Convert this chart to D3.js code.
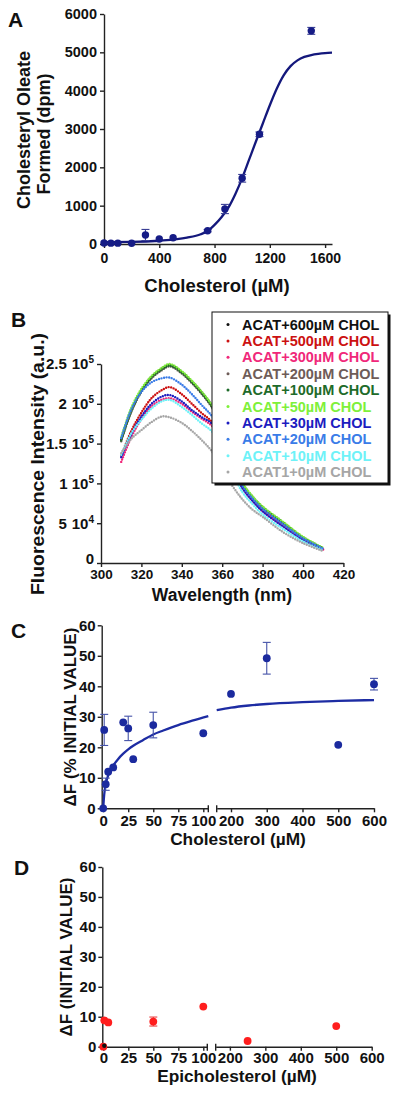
<!DOCTYPE html>
<html><head><meta charset="utf-8">
<script src="https://cdn.jsdelivr.net/npm/d3@7"></script>
<style>
body{margin:0;background:#fff}
svg{display:block}
text{font-family:"Liberation Sans",Arial,Helvetica,sans-serif;font-weight:bold}
</style>
</head><body>
<svg id="c" width="400" height="1096"></svg>
<script>
// ---------- Panel A data ----------
const aCholesterol = [0, 50, 100, 200, 300, 400, 500, 750, 875, 1000, 1125, 1500];
const aOleate      = [25, 22, 22, 18, 235, 130, 165, 347, 913, 1714, 2862, 5560];
const aError       = [0, 0, 0, 0, 145, 0, 0, 30, 120, 100, 60, 90];
const aFitX = [0, 200, 400, 600, 700, 750, 800, 850, 900, 950, 1000, 1050, 1100, 1150, 1200, 1250, 1300, 1350, 1400, 1450, 1500, 1550, 1600, 1650];
const aFitY = [50, 55, 85, 165, 255, 340, 500, 700, 950, 1300, 1720, 2200, 2680, 3150, 3620, 4050, 4400, 4640, 4790, 4880, 4930, 4960, 4980, 4990];
const aXTicks = [0, 400, 800, 1200, 1600];
const aYTicks = [0, 1000, 2000, 3000, 4000, 5000, 6000];

// ---------- Panel B data (intensity in thousands) ----------
const bWavelength = [310, 315, 320, 325, 330, 334, 340, 345, 350, 355, 360, 365, 370, 375, 380, 390, 400, 410];
const bLabels = ["ACAT+600µM CHOL", "ACAT+500µM CHOL", "ACAT+300µM CHOL", "ACAT+200µM CHOL", "ACAT+100µM CHOL",
                 "ACAT+50µM CHOL", "ACAT+30µM CHOL", "ACAT+20µM CHOL", "ACAT+10µM CHOL", "ACAT1+0µM CHOL"];
const bColors = ["#111111", "#cc1111", "#f0287a", "#6e5c58", "#1e6b2a", "#7ef03a", "#1c1cc0", "#3a7ce8", "#6ef2f8", "#a6a6a6"];
const bChol600 = [155, 192, 217, 234, 244, 249, 240, 228, 214, 197, 170, 134, 100, 83, 70, 51, 32, 18.5];
const bChol500 = [135, 166, 189, 207, 217, 221, 212, 200, 188, 177, 152, 123, 95, 79, 66, 48, 30, 17.5];
const bChol300 = [127, 158, 181, 197, 205, 207, 200, 190, 181, 172, 148, 121, 94, 78, 65, 47, 30, 17];
const bChol200 = [153, 190, 215, 232, 242, 247, 238, 226, 212, 195, 168, 133, 99, 82, 69, 50, 31, 18];
const bChol100 = [154, 191, 216, 233, 243, 248, 239, 227, 213, 196, 169, 133, 99, 83, 70, 51, 32, 18];
const bChol50  = [158, 195, 219, 235, 245, 250, 241, 229, 215, 198, 171, 135, 101, 84, 71, 52, 33, 19];
const bChol30  = [133, 162, 184, 200, 209, 211, 203, 192, 183, 175, 150, 121, 94, 78, 65, 46, 29, 17];
const bChol20  = [157, 193, 215, 227, 232, 233, 224, 212, 198, 184, 158, 127, 97, 81, 68, 49, 31, 18];
const bChol10  = [136, 163, 180, 194, 203, 205, 196, 186, 175, 165, 141, 114, 89, 74, 61, 43, 27, 16];
const bChol0   = [138, 156, 167, 177, 184, 183, 176, 166, 154, 140, 118, 97, 80, 67, 58, 39, 25, 15];
const bSeries = [bChol600, bChol500, bChol300, bChol200, bChol100, bChol50, bChol30, bChol20, bChol10, bChol0];
const bXTicks = [300, 320, 340, 360, 380, 400, 420];
const bYTicks = [0, 50, 100, 150, 200, 250];
const bYMant  = ["0", "5", "1", "1.5", "2", "2.5"];
const bYExp   = ["", "4", "5", "5", "5", "5"];

// ---------- Panel C data ----------
const cCholesterol = [0, 1, 2.5, 5, 10, 20, 25, 30, 50, 100, 200, 300, 500, 600];
const cDeltaF      = [0, 25.7, 7.9, 12.0, 13.4, 28.2, 26.2, 16.1, 27.3, 24.6, 37.5, 49.2, 20.8, 40.7];
const cError       = [0, 5.1, 2.0, 0, 0, 0, 4.0, 0, 4.2, 0, 0, 5.2, 0, 1.9];
const cFitLeftX  = [0, 1, 2, 3, 5, 7.5, 10, 15, 20, 25, 30, 40, 50, 60, 75, 90, 105];
const cFitLeftY  = [0, 4.5, 7, 8.6, 10.8, 12.6, 14, 16.2, 17.9, 19.3, 20.5, 22.4, 24.2, 25.5, 27.3, 28.8, 30.2];
const cFitRightX = [160, 200, 250, 300, 400, 500, 600];
const cFitRightY = [32.2, 33.0, 33.7, 34.2, 34.8, 35.2, 35.5];
const cLeftTicks = [0, 25, 50, 75, 100];
const cRightTicks = [200, 300, 400, 500, 600];
const cYTicks = [0, 10, 20, 30, 40, 50, 60];

// ---------- Panel D data ----------
const dEpichol = [0, 1, 5, 50, 100, 250, 500];
const dDeltaF  = [0, 8.8, 8.1, 8.4, 13.4, 1.9, 6.9];
const dError   = [0, 0, 0, 1.5, 0, 0, 0];
const dLeftTicks = [0, 25, 50, 75, 100];
const dRightTicks = [200, 300, 400, 500, 600];
const dYTicks = [0, 10, 20, 30, 40, 50, 60];

// ---------- helpers ----------
const svg = d3.select("#c");
const FONT = '"Liberation Sans", Arial, Helvetica, sans-serif';
const AX = "#222";
const fmt = d3.format("d");

function styleAxis(g, fs) {
  g.attr("font-family", FONT).attr("font-size", fs).attr("font-weight", "bold");
  g.selectAll("path.domain").attr("stroke", AX).attr("stroke-width", 1.4);
  g.selectAll(".tick line").attr("stroke", AX).attr("stroke-width", 1.4);
  g.selectAll(".tick text").attr("fill", "#111");
}
function label(txt, x, y, fs, opts = {}) {
  const t = svg.append("text").attr("x", x).attr("y", y).attr("font-size", fs)
    .attr("text-anchor", opts.anchor || "middle").attr("fill", opts.fill || "#111").text(txt);
  if (opts.rotate) t.attr("transform", `rotate(-90,${x},${y})`);
  if (opts.len) t.attr("textLength", opts.len).attr("lengthAdjust", "spacingAndGlyphs");
  return t;
}
function errorBars(g, xs, ys, es, xf, yf, color) {
  xs.forEach((xv, i) => {
    if (!es[i]) return;
    const x = xf(xv), y1 = yf(ys[i] - es[i]), y2 = yf(ys[i] + es[i]);
    g.append("line").attr("x1", x).attr("x2", x).attr("y1", y1).attr("y2", y2).attr("stroke", color).attr("stroke-width", 1.1);
    [y1, y2].forEach(y => g.append("line").attr("x1", x - 4).attr("x2", x + 4).attr("y1", y).attr("y2", y).attr("stroke", color).attr("stroke-width", 1.1));
  });
}

// ================= Panel A =================
{
  const x = d3.scaleLinear().domain([0, 1650]).range([104, 332]);
  const y = d3.scaleLinear().domain([0, 6000]).range([244, 14]);
  const g = svg.append("g");
  const ax = g.append("g").attr("transform", "translate(0,244)")
    .call(d3.axisBottom(x).tickValues(aXTicks).tickFormat(fmt).tickSize(4).tickPadding(5).tickSizeOuter(0));
  styleAxis(ax, 14);
  const ay = g.append("g").attr("transform", "translate(104,0)")
    .call(d3.axisLeft(y).tickValues(aYTicks).tickFormat(fmt).tickSize(4).tickPadding(3).tickSizeOuter(0));
  styleAxis(ay, 14.5);
  const pts = aFitX.map((v, i) => [v, aFitY[i]]);
  g.append("path").attr("d", d3.line().x(d => x(d[0])).y(d => y(d[1])).curve(d3.curveMonotoneX)(pts))
    .attr("fill", "none").attr("stroke", "#14187c").attr("stroke-width", 2.3);
  errorBars(g, aCholesterol, aOleate, aError, x, y, "#3a3f95");
  g.selectAll("circle.a").data(aCholesterol).enter().append("circle")
    .attr("cx", d => x(d)).attr("cy", (d, i) => y(aOleate[i])).attr("r", 3.7).attr("fill", "#161c86");
  label("A", 8, 27, 21, { anchor: "start" });
  label("Cholesteryl Oleate", 30, 130, 18, { rotate: true });
  label("Formed (dpm)", 50, 134, 18, { rotate: true });
  label("Cholesterol (µM)", 217, 292, 18.5);
}

// ================= Panel B =================
{
  const x = d3.scaleLinear().domain([300, 420]).range([101, 343.4]);
  const y = d3.scaleLinear().domain([0, 250]).range([563, 364]);
  const g = svg.append("g");
  const line = d3.line().x((d, i) => x(bWavelength[i])).y(d => y(d)).curve(d3.curveCatmullRom);
  bSeries.forEach((s, k) => {
    g.append("path").attr("d", line(s)).attr("fill", "none").attr("stroke", bColors[k])
      .attr("stroke-width", 2.4).attr("stroke-linecap", "round").attr("stroke-dasharray", "0 2.6");
  });
  const ax = g.append("g").attr("transform", "translate(0,563)")
    .call(d3.axisBottom(x).tickValues(bXTicks).tickSize(4).tickPadding(2).tickSizeOuter(0));
  styleAxis(ax, 13.5);
  const ay = g.append("g").attr("transform", "translate(101,0)")
    .call(d3.axisLeft(y).tickValues(bYTicks).tickSize(4).tickPadding(3).tickSizeOuter(0).tickFormat(() => ""));
  styleAxis(ay, 15);
  ay.selectAll(".tick text").each(function (d, i) {
    const t = d3.select(this);
    t.text(null);
    t.append("tspan").text(bYMant[i]);
    if (bYExp[i]) {
      t.append("tspan").attr("dx", 5).text("10");
      t.append("tspan").attr("dy", -6).attr("font-size", 10).text(bYExp[i]);
    } else {
      t.attr("y", -4);
    }
  });
  // legend
  const lx = 212, ly = 312, lw = 176, lh = 171;
  g.append("rect").attr("x", lx + 2.5).attr("y", ly + 2.5).attr("width", lw).attr("height", lh).attr("fill", "#111");
  g.append("rect").attr("x", lx).attr("y", ly).attr("width", lw).attr("height", lh).attr("fill", "#fff").attr("stroke", "#111").attr("stroke-width", 1);
  bLabels.forEach((lab, k) => {
    const cy = ly + 12.5 + k * 16.4;
    g.append("circle").attr("cx", lx + 16).attr("cy", cy).attr("r", 1.5).attr("fill", bColors[k]);
    g.append("text").attr("x", lx + 30).attr("y", cy + 5).attr("font-size", 14.5).attr("fill", bColors[k]).text(lab);
  });
  label("B", 11, 327, 21, { anchor: "start" });
  label("Fluorescence Intensity (a.u.)", 44, 464, 18, { rotate: true, len: 262 });
  label("Wavelength (nm)", 222, 601, 17.5);
}

// ================= Panel C =================
{
  const y0 = 808.3;
  const xl = d3.scaleLinear().domain([-1.5, 105]).range([101.7, 208.3]);
  const xr = d3.scaleLinear().domain([160, 600]).range([216.7, 374]);
  const y = d3.scaleLinear().domain([0, 60]).range([y0, 625.3]);
  const xf = v => v <= 105 ? xl(v) : xr(v);
  const g = svg.append("g");
  const axl = g.append("g").attr("transform", `translate(0,${y0})`)
    .call(d3.axisBottom(xl).tickValues(cLeftTicks).tickSize(4).tickPadding(3).tickSizeOuter(0));
  styleAxis(axl, 15);
  const axr = g.append("g").attr("transform", `translate(0,${y0})`)
    .call(d3.axisBottom(xr).tickValues(cRightTicks).tickSize(4).tickPadding(3).tickSizeOuter(0));
  styleAxis(axr, 15);
  [xl.range()[1], xr.range()[0]].forEach(px => g.append("line").attr("x1", px).attr("x2", px)
    .attr("y1", y0 - 3).attr("y2", y0 + 4).attr("stroke", AX).attr("stroke-width", 1.4));
  const ay = g.append("g").attr("transform", "translate(101.7,0)")
    .call(d3.axisLeft(y).tickValues(cYTicks).tickSize(4).tickPadding(2).tickSizeOuter(0));
  styleAxis(ay, 15);
  const lineL = d3.line().x((d, i) => xl(cFitLeftX[i])).y(d => y(d)).curve(d3.curveMonotoneX);
  const lineR = d3.line().x((d, i) => xr(cFitRightX[i])).y(d => y(d)).curve(d3.curveMonotoneX);
  g.append("path").attr("d", lineL(cFitLeftY)).attr("fill", "none").attr("stroke", "#1d2ca3").attr("stroke-width", 2.3);
  g.append("path").attr("d", lineR(cFitRightY)).attr("fill", "none").attr("stroke", "#1d2ca3").attr("stroke-width", 2.3);
  errorBars(g, cCholesterol, cDeltaF, cError, xf, y, "#4452a8");
  g.selectAll("circle.c").data(cCholesterol).enter().append("circle")
    .attr("cx", d => xf(d)).attr("cy", (d, i) => y(cDeltaF[i])).attr("r", 3.9).attr("fill", "#1b2a9e");
  label("C", 11, 638, 21, { anchor: "start" });
  label("ΔF (% INITIAL VALUE)", 75.5, 717, 17, { rotate: true });
  label("Cholesterol (µM)", 238, 845, 17.3);
}

// ================= Panel D =================
{
  const y0 = 1046.7;
  const xl = d3.scaleLinear().domain([-1, 104]).range([102.3, 207.3]);
  const xr = d3.scaleLinear().domain([160, 600]).range([215.7, 371.7]);
  const y = d3.scaleLinear().domain([0, 60]).range([y0, 867]);
  const xf = v => v <= 104 ? xl(v) : xr(v);
  const g = svg.append("g");
  const axl = g.append("g").attr("transform", `translate(0,${y0})`)
    .call(d3.axisBottom(xl).tickValues(dLeftTicks).tickSize(4).tickPadding(2).tickSizeOuter(0));
  styleAxis(axl, 15);
  const axr = g.append("g").attr("transform", `translate(0,${y0})`)
    .call(d3.axisBottom(xr).tickValues(dRightTicks).tickSize(4).tickPadding(2).tickSizeOuter(0));
  styleAxis(axr, 15);
  [xl.range()[1], xr.range()[0]].forEach(px => g.append("line").attr("x1", px).attr("x2", px)
    .attr("y1", y0 - 3).attr("y2", y0 + 4).attr("stroke", AX).attr("stroke-width", 1.4));
  const ay = g.append("g").attr("transform", "translate(102.3,0)")
    .call(d3.axisLeft(y).tickValues(dYTicks).tickSize(4).tickPadding(2).tickSizeOuter(0));
  styleAxis(ay, 15);
  errorBars(g, dEpichol, dDeltaF, dError, xf, y, "#e84040");
  g.selectAll("circle.d").data(dEpichol).enter().append("circle")
    .attr("cx", d => xf(d)).attr("cy", (d, i) => y(dDeltaF[i])).attr("r", 3.9).attr("fill", "#ff1e1e");
  g.append("circle").attr("cx", xf(dEpichol[0]) + 1).attr("cy", y(dDeltaF[0]) - 1).attr("r", 2.2).attr("fill", "#111");
  label("D", 14, 875, 21, { anchor: "start" });
  label("ΔF (INITIAL VALUE)", 72, 957, 17, { rotate: true });
  label("Epicholesterol (µM)", 237, 1082, 17.3);
}
</script>
</body></html>
